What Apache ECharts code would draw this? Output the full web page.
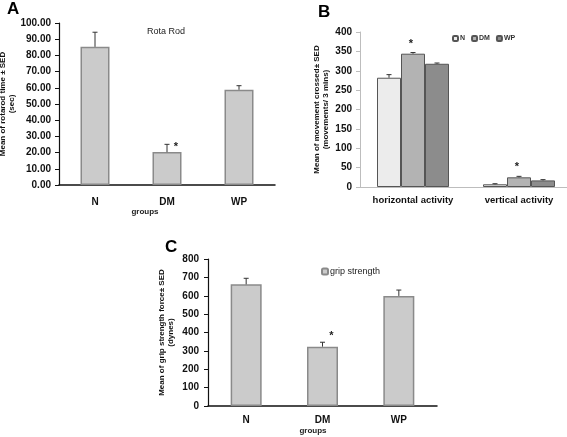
<!DOCTYPE html>
<html><head><meta charset="utf-8">
<script src="https://cdn.jsdelivr.net/npm/echarts@6/dist/echarts.min.js"></script>
<style>html,body{margin:0;padding:0;background:#fff}#c{width:567px;height:437px}</style>
</head><body><div id="c"></div>
<script>
// ---- Panel A: Rota Rod ----
const groupsA = ['N', 'DM', 'WP'];
const rotarodMean = [85.3, 20.3, 58.8];
const rotarodSED = [9.0, 4.8, 2.5];
const rotarodStars = ['', '*', ''];

// ---- Panel B: activity ----
const activityCats = ['horizontal activity', 'vertical activity'];
const actSeriesNames = ['N', 'DM', 'WP'];
const actN = [282, 7];
const actN_SED = [8, 1.5];
const actDM = [344, 25];
const actDM_SED = [3, 2.5];
const actWP = [318, 17];
const actWP_SED = [2, 2];
const actStarsDM = ['*', '*'];

// ---- Panel C: grip strength ----
const groupsC = ['N', 'DM', 'WP'];
const gripMean = [662, 323, 599];
const gripSED = [33, 24, 32];
const gripStars = ['', '*', ''];

const FONT = '"Liberation Sans", Arial, sans-serif';

function errRender(offset, stars, starDx, starDy) {
  return function (params, api) {
    const i = api.value(0), m = api.value(1), e = api.value(2);
    const base = api.coord([i, m]);
    const top = api.coord([i, m + e]);
    const x = base[0] + offset;
    const ch = [
      {type: 'line', shape: {x1: x, y1: base[1], x2: x, y2: top[1]}, style: {stroke: '#333', lineWidth: 1}},
      {type: 'line', shape: {x1: x - 2.5, y1: top[1], x2: x + 2.5, y2: top[1]}, style: {stroke: '#333', lineWidth: 1}}
    ];
    const s = stars ? stars[params.dataIndex] : '';
    if (s) {
      ch.push({type: 'text', x: x + starDx, y: top[1] + starDy,
        style: {text: s, fill: '#222', font: 'bold 11px ' + FONT, align: 'center', verticalAlign: 'middle'}});
    }
    return {type: 'group', children: ch};
  };
}
function errData(means, seds) { return means.map((m, i) => [i, m, seds[i]]); }

const blackAxis = {lineStyle: {color: '#111', width: 1.5}};
const axisLblBold = {fontFamily: FONT, fontWeight: 'bold', fontSize: 10, color: '#111'};
const nameStyle = {fontFamily: FONT, fontWeight: 'bold', fontSize: 8, color: '#111', lineHeight: 9};

const chart = echarts.init(document.getElementById('c'), null, {renderer: 'canvas'});
const BW = 24;
chart.setOption({
  animation: false,
  backgroundColor: '#fff',
  grid: [
    {left: 59, top: 23, width: 216, height: 162, outerBoundsMode: 'none', containLabel: false},
    {left: 360, top: 32, width: 212, height: 155, outerBoundsMode: 'none', containLabel: false},
    {left: 208, top: 259, width: 229, height: 147, outerBoundsMode: 'none', containLabel: false}
  ],
  xAxis: [
    {gridIndex: 0, type: 'category', data: groupsA, axisLine: blackAxis,
     axisTick: {lineStyle: {color: '#111', width: 1.5}, length: 4},
     axisLabel: Object.assign({margin: 12, interval: 0}, axisLblBold)},
    {gridIndex: 1, type: 'category', data: activityCats,
     axisLine: {lineStyle: {color: '#bdbdbd', width: 1}},
     axisTick: {lineStyle: {color: '#bdbdbd'}, length: 4},
     axisLabel: {margin: 8, interval: 0, fontFamily: FONT, fontWeight: 'bold', fontSize: 9.5, color: '#111'}},
    {gridIndex: 2, type: 'category', data: groupsC, axisLine: blackAxis,
     axisTick: {lineStyle: {color: '#111', width: 1.5}, length: 4},
     axisLabel: Object.assign({margin: 9, interval: 0}, axisLblBold)}
  ],
  yAxis: [
    {gridIndex: 0, type: 'value', min: 0, max: 100, interval: 10,
     axisLine: {show: true, lineStyle: {color: '#111', width: 1.2}},
     axisTick: {show: true, length: 4, lineStyle: {color: '#111'}},
     splitLine: {show: false},
     axisLabel: Object.assign({margin: 8, formatter: v => v.toFixed(2)}, axisLblBold),
     name: 'Mean of rotarod time ± SED\n(sec)', nameLocation: 'middle', nameGap: 40, nameRotate: 90,
     nameTextStyle: nameStyle},
    {gridIndex: 1, type: 'value', min: 0, max: 400, interval: 50,
     axisLine: {show: true, lineStyle: {color: '#bdbdbd', width: 1}},
     axisTick: {show: true, length: 4, lineStyle: {color: '#bdbdbd'}},
     splitLine: {show: false},
     axisLabel: Object.assign({margin: 8}, axisLblBold),
     name: 'Mean of movement crossed± SED\n(movements/ 3 mins)', nameLocation: 'middle', nameGap: 30, nameRotate: 90,
     nameTextStyle: nameStyle},
    {gridIndex: 2, type: 'value', min: 0, max: 800, interval: 100,
     axisLine: {show: true, lineStyle: {color: '#111', width: 1.2}},
     axisTick: {show: true, length: 4, lineStyle: {color: '#111'}},
     splitLine: {show: false},
     axisLabel: Object.assign({margin: 9}, axisLblBold),
     name: 'Mean of grip strength force± SED\n(dynes)', nameLocation: 'middle', nameGap: 33, nameRotate: 90,
     nameTextStyle: nameStyle}
  ],
  legend: [
    {data: actSeriesNames, left: 452, top: 35, itemWidth: 5, itemHeight: 5, itemGap: 6, padding: 0,
     textStyle: {fontFamily: FONT, fontWeight: 'bold', fontSize: 7, color: '#333', padding: [0, 0, 0, -3]}},
    {data: ['grip strength'], left: 321, top: 267, itemWidth: 6, itemHeight: 6, padding: 0,
     textStyle: {fontFamily: FONT, fontSize: 9, color: '#222', padding: [0, 0, 0, -3]}}
  ],
  series: [
    {name: 'rotarod', type: 'bar', xAxisIndex: 0, yAxisIndex: 0, data: rotarodMean, barWidth: 29,
     itemStyle: {color: '#cbcbcb', borderColor: '#8a8a8a', borderWidth: 1.5}},
    {type: 'custom', xAxisIndex: 0, yAxisIndex: 0, data: errData(rotarodMean, rotarodSED),
     renderItem: errRender(0, rotarodStars, 9, 3), z: 5},

    {name: 'N', type: 'bar', xAxisIndex: 1, yAxisIndex: 1, data: actN, barWidth: BW, barGap: '0%',
     itemStyle: {color: '#ececec', borderColor: '#555', borderWidth: 1}},
    {name: 'DM', type: 'bar', xAxisIndex: 1, yAxisIndex: 1, data: actDM, barWidth: BW, barGap: '0%',
     itemStyle: {color: '#b3b3b3', borderColor: '#555', borderWidth: 1}},
    {name: 'WP', type: 'bar', xAxisIndex: 1, yAxisIndex: 1, data: actWP, barWidth: BW, barGap: '0%',
     itemStyle: {color: '#8c8c8c', borderColor: '#555', borderWidth: 1}},
    {type: 'custom', xAxisIndex: 1, yAxisIndex: 1, data: errData(actN, actN_SED), renderItem: errRender(-BW, null), z: 5},
    {type: 'custom', xAxisIndex: 1, yAxisIndex: 1, data: errData(actDM, actDM_SED), renderItem: errRender(0, actStarsDM, -2, -9), z: 5},
    {type: 'custom', xAxisIndex: 1, yAxisIndex: 1, data: errData(actWP, actWP_SED), renderItem: errRender(BW, null), z: 5},

    {name: 'grip strength', type: 'bar', xAxisIndex: 2, yAxisIndex: 2, data: gripMean, barWidth: 31,
     itemStyle: {color: '#cbcbcb', borderColor: '#8a8a8a', borderWidth: 1.5}},
    {type: 'custom', xAxisIndex: 2, yAxisIndex: 2, data: errData(gripMean, gripSED),
     renderItem: errRender(0, gripStars, 9, -6), z: 5}
  ],
  graphic: [
    {type: 'text', x: 7, y: 1, style: {text: 'A', font: 'bold 17px ' + FONT, fill: '#000'}},
    {type: 'text', x: 318, y: 4, style: {text: 'B', font: 'bold 17px ' + FONT, fill: '#000'}},
    {type: 'text', x: 165, y: 239, style: {text: 'C', font: 'bold 17px ' + FONT, fill: '#000'}},
    {type: 'text', x: 166, y: 32, style: {text: 'Rota Rod', font: '9px ' + FONT, fill: '#222', align: 'center', verticalAlign: 'middle'}},
    {type: 'text', x: 145, y: 212, style: {text: 'groups', font: 'bold 8px ' + FONT, fill: '#222', align: 'center', verticalAlign: 'middle'}},
    {type: 'text', x: 313, y: 431, style: {text: 'groups', font: 'bold 8px ' + FONT, fill: '#222', align: 'center', verticalAlign: 'middle'}}
  ]
});
</script></body></html>
